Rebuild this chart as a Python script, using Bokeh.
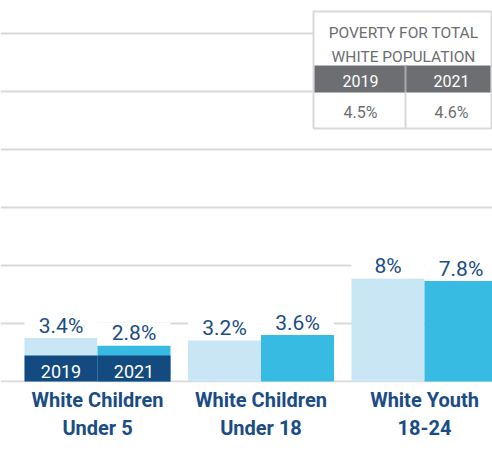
import numpy as np
from bokeh.plotting import figure
from bokeh.models import FixedTicker
from bokeh.core.properties import value
from bokeh.embed import file_html
from bokeh.resources import INLINE

# ---------------- data ----------------
categories = ["White Children\nUnder 5", "White Children\nUnder 18", "White Youth\n18-24"]
years = ["2019", "2021"]
pct_2019 = [3.4, 3.2, 8.0]
pct_2021 = [2.8, 3.6, 7.8]
table_title = ["POVERTY FOR TOTAL", "WHITE POPULATION"]
total_pct = [4.5, 4.6]

# ---------------- styles ----------------
LIGHT = "#c9e6f4"
CYAN = "#38bbe3"
NAVY = "#134a80"
LABEL = "#1a4c86"
GREY = "#6d6e71"
GRID = "#d9d9d9"
FONT = "Roboto"
SHIFT = -5            # baseline correction for rendered text, px

W, H = 492, 461
FRAME_H = 382
BOTTOM = H - FRAME_H
PX_X = 163.5          # pixels per category
PX_Y = 58 / 4.5       # pixels per percentage point
X0 = 97               # page px of first category centre
BASE = 381            # page px of baseline


def dx(px):
    return (px - X0) / PX_X


def dy(py):
    return (BASE - py) / PX_Y


p = figure(width=W, height=H, output_backend="svg", toolbar_location=None,
           x_range=(dx(0), dx(W)), y_range=(dy(FRAME_H), dy(0)),
           y_axis_location=None, min_border_left=0, min_border_right=0,
           min_border_top=0, min_border_bottom=BOTTOM)
p.outline_line_color = None
p.xgrid.visible = False
p.background_fill_color = "white"

p.ygrid.ticker = FixedTicker(ticks=list(np.arange(0, 30, 4.5)))
p.ygrid.grid_line_color = GRID
p.ygrid.grid_line_width = 2

idx = np.arange(len(categories))
off = 36.5 / PX_X
bw = 73 / PX_X

# bars
p.vbar(x=idx - off, top=pct_2019, width=bw, fill_color=LIGHT, line_color=None)
p.vbar(x=idx + off, top=pct_2021, width=bw, fill_color=CYAN, line_color=None)

# white label backgrounds
box_h = 23 / PX_Y
p.vbar(x=idx - off, bottom=pct_2019, top=np.array(pct_2019) + box_h, width=bw,
       fill_color="white", line_color=None)
p.vbar(x=idx + off, bottom=pct_2021, top=np.array(pct_2021) + box_h, width=bw,
       fill_color="white", line_color=None)

# value labels
lab_kw = dict(text_font=value(FONT), text_font_size="21px", text_color=LABEL,
              text_align="center", text_baseline="alphabetic", y_offset=-7 + SHIFT)
p.text(x=idx - off, y=pct_2019, text=[f"{v:g}%" for v in pct_2019], **lab_kw)
p.text(x=idx + off, y=pct_2021, text=[f"{v:g}%" for v in pct_2021], **lab_kw)

# year legend inside first group
leg_x = [idx[0] - off, idx[0] + off]
p.vbar(x=leg_x, bottom=0, top=26 / PX_Y, width=bw, fill_color=NAVY, line_color=None)
p.text(x=leg_x, y=[0, 0], text=years, text_font=value(FONT), text_font_size="18px",
       text_color="white", text_align="center", text_baseline="alphabetic",
       y_offset=-5 + SHIFT)

# x axis (categories)
ax = p.xaxis[0]
ax.ticker = FixedTicker(ticks=list(idx))
ax.major_label_overrides = {int(i): c for i, c in zip(idx, categories)}
ax.axis_line_color = None
ax.major_tick_line_color = None
ax.minor_tick_line_color = None
ax.major_label_text_font = FONT
ax.major_label_text_font_style = "bold"
ax.major_label_text_font_size = "20px"
ax.major_label_text_color = LABEL
ax.major_label_text_line_height = 1.2
ax.major_label_standoff = -1

# inset table
p.quad(left=dx(313), right=dx(491), top=dy(11), bottom=dy(128),
       fill_color="white", line_color=GRID, line_width=2)
p.quad(left=dx(314), right=dx(490), top=dy(65), bottom=dy(92),
       fill_color=GREY, line_color=None)
p.segment(x0=[dx(405)], y0=[dy(65)], x1=[dx(405)], y1=[dy(92)],
          line_color="#a9aaac", line_width=2)
p.segment(x0=[dx(405)], y0=[dy(92)], x1=[dx(405)], y1=[dy(128)],
          line_color=GRID, line_width=2)
tkw = dict(text_font=value(FONT), text_align="center", text_baseline="alphabetic",
           y_offset=SHIFT)
p.text(x=[dx(403), dx(403)], y=[dy(37), dy(61)], text=table_title,
       text_font_size="15.5px", text_color=GREY, **tkw)
cell_x = [dx(360), dx(451)]
p.text(x=cell_x, y=[dy(85)] * 2, text=years, text_font_size="16px",
       text_color="white", **tkw)
p.text(x=cell_x, y=[dy(117)] * 2, text=[f"{v:g}%" for v in total_pct],
       text_font_size="16px", text_color=GREY, **tkw)

open("out.html", "w").write(file_html(p, INLINE))
